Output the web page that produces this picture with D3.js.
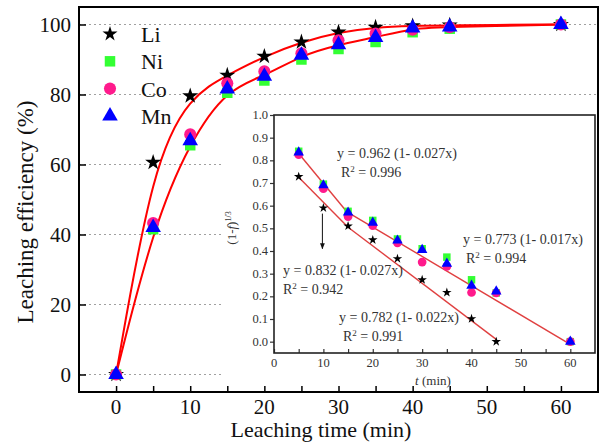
<!DOCTYPE html>
<html>
<head>
<meta charset="utf-8">
<script src="https://cdn.jsdelivr.net/npm/d3@7"></script>
<style>
  body { margin: 0; background: #fff; }
  svg { display: block; font-family: "Liberation Serif", "DejaVu Serif", serif; }
</style>
</head>
<body>
<div class="chart"></div>
<script>
// main chart data: leaching efficiency (%) vs time (min)
var times = [0, 5, 10, 15, 20, 25, 30, 35, 40, 45, 60];
var li = [0, 60.6, 79.6, 85.5, 90.9, 95.0, 97.8, 99.2, 99.6, 99.8, 100];
var ni = [0, 41.5, 65.5, 80.5, 84.0, 90.0, 93.0, 95.0, 97.8, 98.8, 100];
var co = [0, 43.3, 68.6, 83.2, 86.6, 91.8, 95.5, 97.4, 98.5, 99.2, 100];
var mn = [0, 42.0, 66.8, 81.6, 85.2, 91.2, 94.2, 96.3, 99.0, 99.3, 100];

// inset data: (1-f)^(1/3) vs t
var insetTimesLi = [5, 10, 15, 20, 25, 30, 35, 40, 45];
var insetLi = [0.728, 0.59, 0.51, 0.449, 0.366, 0.273, 0.217, 0.101, 0.0];
var insetTimes = [5, 10, 15, 20, 25, 30, 35, 40, 45, 60];
var insetNi = [0.84, 0.695, 0.575, 0.535, 0.453, 0.41, 0.373, 0.273, 0.215, 0.0];
var insetCo = [0.825, 0.675, 0.552, 0.512, 0.436, 0.351, 0.332, 0.217, 0.215, 0.0];
var insetMn = [0.835, 0.69, 0.57, 0.525, 0.446, 0.405, 0.344, 0.247, 0.222, 0.0];

// fitted straight segments in inset, [[x1, y1], [x2, y2]]
var fitLines = [
  [[5, 0.83], [14.7, 0.574]],
  [[14.7, 0.574], [60, -0.012]],
  [[5, 0.725], [15, 0.505]],
  [[15, 0.505], [45, 0.01]]
];

// annotations in inset
var fitLabels = [
  {eq: "y = 0.962 (1- 0.027x)", r2: "0.996", x: 337, y: 158, rx: 341},
  {eq: "y = 0.773 (1- 0.017x)", r2: "0.994", x: 463, y: 244, rx: 466},
  {eq: "y = 0.832 (1- 0.027x)", r2: "0.942", x: 283, y: 275, rx: 283},
  {eq: "y = 0.782 (1- 0.022x)", r2: "0.991", x: 339, y: 322, rx: 343}
];

var series = [
  {name: "Li", main: li, inset: insetLi, insetT: insetTimesLi, color: "#000000", type: d3.symbolStar, size: 80, insetSize: 28},
  {name: "Ni", main: ni, inset: insetNi, insetT: insetTimes, color: "#33ff33", type: d3.symbolSquare, size: 110, insetSize: 56},
  {name: "Co", main: co, inset: insetCo, insetT: insetTimes, color: "#ff1a8c", type: d3.symbolCircle, size: 115, insetSize: 60},
  {name: "Mn", main: mn, inset: insetMn, insetT: insetTimes, color: "#0000ff", type: d3.symbolTriangle, size: 105, insetSize: 48}
];

var svgWidth = 601, svgHeight = 446;
var svg = d3.select(".chart").append("svg")
  .attr("width", svgWidth)
  .attr("height", svgHeight);

//////////////////////////////////////////////////////////////////
// Main chart
//////////////////////////////////////////////////////////////////
var L = 79, R = 598, T = 7, B = 392;
var x = d3.scaleLinear().domain([-5, 65]).range([L, R]);
var y = d3.scaleLinear().domain([-5, 105]).range([B, T]);

// dotted grid
svg.append("g").selectAll("line")
  .data([0, 20, 40, 60, 80, 100])
  .enter().append("line")
  .attr("x1", L).attr("x2", R)
  .attr("y1", function(d) { return y(d); })
  .attr("y2", function(d) { return y(d); })
  .attr("stroke", "#a0a0a0")
  .attr("stroke-width", 1)
  .attr("stroke-dasharray", "2,3");

// white area behind inset
svg.append("rect")
  .attr("x", 224).attr("y", 107)
  .attr("width", 373).attr("height", 279)
  .attr("fill", "#fff");

// axes, ticks inside
var bottomAxis = d3.axisBottom(x).tickValues(d3.range(0, 65, 5)).tickSizeInner(-6).tickSizeOuter(0).tickFormat("");
svg.append("g").attr("transform", "translate(0," + B + ")").call(bottomAxis)
  .call(function(g) { g.select(".domain").remove(); })
  .selectAll("line").attr("stroke", "#000").attr("stroke-width", 1.5);

var leftAxis = d3.axisLeft(y).tickValues([0, 20, 40, 60, 80, 100]).tickSizeInner(-7).tickSizeOuter(0).tickFormat("");
svg.append("g").attr("transform", "translate(" + L + ",0)").call(leftAxis)
  .call(function(g) { g.select(".domain").remove(); })
  .selectAll("line").attr("stroke", "#000").attr("stroke-width", 1.5);

svg.append("g").selectAll("text")
  .data([0, 10, 20, 30, 40, 50, 60])
  .enter().append("text")
  .attr("x", function(d) { return x(d); })
  .attr("y", 414)
  .attr("text-anchor", "middle")
  .attr("font-size", 21)
  .attr("fill", "#111")
  .text(function(d) { return d; });

svg.append("g").selectAll("text")
  .data([0, 20, 40, 60, 80, 100])
  .enter().append("text")
  .attr("x", 71)
  .attr("y", function(d) { return y(d) + 7; })
  .attr("text-anchor", "end")
  .attr("font-size", 21)
  .attr("fill", "#111")
  .text(function(d) { return d; });

svg.append("text")
  .attr("x", 321).attr("y", 437)
  .attr("text-anchor", "middle")
  .attr("font-size", 22)
  .attr("fill", "#111")
  .text("Leaching time (min)");

svg.append("text")
  .attr("transform", "translate(33,212) rotate(-90)")
  .attr("text-anchor", "middle")
  .attr("font-size", 23)
  .attr("fill", "#111")
  .text("Leaching efficiency (%)");

// fitted curves
var curveLine = d3.line()
  .x(function(d, i) { return x(times[i]); })
  .y(function(d) { return y(d); })
  .curve(d3.curveBasis);

[li, mn].forEach(function(s) {
  svg.append("path")
    .attr("d", curveLine(s))
    .attr("fill", "none")
    .attr("stroke", "#ff0000")
    .attr("stroke-width", 2);
});

// data points
series.forEach(function(s) {
  var sym = d3.symbol().type(s.type).size(s.size);
  svg.append("g").selectAll("path")
    .data(s.main)
    .enter().append("path")
    .attr("d", sym)
    .attr("transform", function(d, i) { return "translate(" + x(times[i]) + "," + y(d) + ")"; })
    .attr("fill", s.color);
});

// legend
series.forEach(function(s, i) {
  var ly = 34 + i * 27.3;
  svg.append("path")
    .attr("d", d3.symbol().type(s.type).size(s.name === "Li" ? 70 : s.size))
    .attr("transform", "translate(110," + ly + ")")
    .attr("fill", s.color);
  svg.append("text")
    .attr("x", 141).attr("y", ly + 8)
    .attr("font-size", 22)
    .attr("fill", "#111")
    .text(s.name);
});

// frame
svg.append("rect")
  .attr("x", L).attr("y", T)
  .attr("width", R - L).attr("height", B - T)
  .attr("fill", "none")
  .attr("stroke", "#000")
  .attr("stroke-width", 2);

//////////////////////////////////////////////////////////////////
// Inset
//////////////////////////////////////////////////////////////////
var iL = 274, iR = 595, iT = 115, iB = 353;
var ix = d3.scaleLinear().domain([0, 65]).range([iL, iR]);
var iy = d3.scaleLinear().domain([-0.05, 1.0]).range([iB, iT]);
var inset = svg.append("g");

inset.append("g").attr("transform", "translate(0," + iB + ")")
  .call(d3.axisBottom(ix).tickValues(d3.range(0, 65, 5)).tickSizeInner(-4).tickSizeOuter(0).tickFormat(""))
  .call(function(g) { g.select(".domain").remove(); })
  .selectAll("line").attr("stroke", "#333").attr("stroke-width", 1.2);

inset.append("g").attr("transform", "translate(" + iL + ",0)")
  .call(d3.axisLeft(iy).tickValues(d3.range(0, 1.01, 0.1)).tickSizeInner(4).tickSizeOuter(0).tickFormat(""))
  .call(function(g) { g.select(".domain").remove(); })
  .selectAll("line").attr("stroke", "#333").attr("stroke-width", 1.2);

inset.append("g").selectAll("text")
  .data(d3.range(0, 61, 10))
  .enter().append("text")
  .attr("x", function(d) { return ix(d); })
  .attr("y", 367)
  .attr("text-anchor", "middle")
  .attr("font-size", 12.5)
  .attr("fill", "#333")
  .text(function(d) { return d; });

inset.append("g").selectAll("text")
  .data(d3.range(0, 11, 1))
  .enter().append("text")
  .attr("x", 268)
  .attr("y", function(d) { return iy(d / 10) + 4; })
  .attr("text-anchor", "end")
  .attr("font-size", 12.5)
  .attr("fill", "#333")
  .text(function(d) { return (d / 10).toFixed(1); });

var tl = inset.append("text")
  .attr("x", 433).attr("y", 385)
  .attr("text-anchor", "middle")
  .attr("font-size", 13)
  .attr("fill", "#333");
tl.append("tspan").attr("font-style", "italic").text("t");
tl.append("tspan").text(" (min)");

var yl = inset.append("text")
  .attr("transform", "translate(236,228) rotate(-90)")
  .attr("text-anchor", "middle")
  .attr("font-size", 13)
  .attr("fill", "#333");
yl.append("tspan").text("(1-");
yl.append("tspan").attr("font-style", "italic").text("f");
yl.append("tspan").text(")");
yl.append("tspan").attr("font-size", 8).attr("dy", -5).text("1/3");

// fit lines
fitLines.forEach(function(seg) {
  inset.append("line")
    .attr("x1", ix(seg[0][0])).attr("y1", iy(seg[0][1]))
    .attr("x2", ix(seg[1][0])).attr("y2", iy(seg[1][1]))
    .attr("stroke", "#e04040")
    .attr("stroke-width", 1.4);
});

// inset points
series.forEach(function(s) {
  var sym = d3.symbol().type(s.type).size(s.insetSize);
  inset.append("g").selectAll("path")
    .data(s.inset)
    .enter().append("path")
    .attr("d", sym)
    .attr("transform", function(d, i) { return "translate(" + ix(s.insetT[i]) + "," + iy(d) + ")"; })
    .attr("fill", s.color);
});

// arrow
inset.append("defs").append("marker")
  .attr("id", "arrow")
  .attr("viewBox", "0 0 10 10")
  .attr("refX", 9).attr("refY", 5)
  .attr("markerWidth", 6).attr("markerHeight", 6)
  .attr("orient", "auto")
  .append("path").attr("d", "M0,1 L10,5 L0,9 Z").attr("fill", "#111");
inset.append("line")
  .attr("x1", ix(9.8)).attr("y1", iy(0.565))
  .attr("x2", ix(9.8)).attr("y2", iy(0.41))
  .attr("stroke", "#111")
  .attr("stroke-width", 1)
  .attr("marker-end", "url(#arrow)");

// equations
fitLabels.forEach(function(f) {
  inset.append("text")
    .attr("x", f.x).attr("y", f.y)
    .attr("font-size", 14)
    .attr("fill", "#333")
    .text(f.eq);
  var r = inset.append("text")
    .attr("x", f.rx).attr("y", f.y + 19)
    .attr("font-size", 14)
    .attr("fill", "#333");
  r.append("tspan").text("R");
  r.append("tspan").attr("font-size", 9).attr("dy", -5).text("2");
  r.append("tspan").attr("dy", 5).text(" = " + f.r2);
});

// inset frame
inset.append("rect")
  .attr("x", iL).attr("y", iT)
  .attr("width", iR - iL).attr("height", iB - iT)
  .attr("fill", "none")
  .attr("stroke", "#222")
  .attr("stroke-width", 1.6);
</script>
</body>
</html>
